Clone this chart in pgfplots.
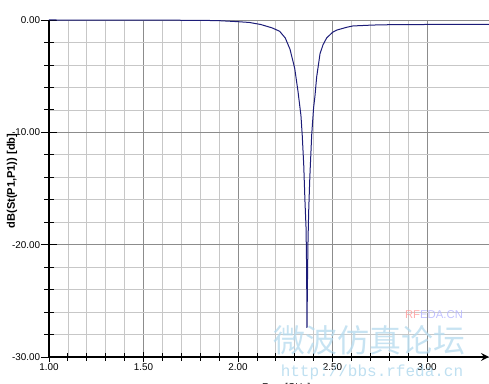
\documentclass[border=0pt]{standalone}
\usepackage{pgfplots}
\pgfplotsset{compat=1.18}
\usepackage{fontspec}
\setmainfont{Liberation Sans}
\setmonofont{Liberation Mono}
\newfontfamily\cjk{Noto Sans CJK SC}
\definecolor{curve}{HTML}{1C1C78}
\definecolor{wm}{HTML}{B4DAEE}
\begin{document}
\begin{tikzpicture}[x=0.75pt,y=0.75pt]
\begin{axis}[
  at={(0,0)}, anchor=south west,
  scale only axis, width=330pt, height=252.75pt,
  xmin=1, xmax=3.328, ymin=-30, ymax=0,
  axis x line=bottom, axis y line=left,
  x axis line style={line width=1.6pt,-stealth},
  y axis line style={line width=0.9pt,-},
  xtick={1,1.5,2,2.5,3}, xticklabels={1.00,1.50,2.00,2.50,3.00},
  ytick={-30,-20,-10,0}, yticklabels={-30.00,-20.00,-10.00,0.00},
  minor x tick num=4, minor y tick num=4,
  grid=both,
  major grid style={draw=black!45, line width=0.6pt},
  minor grid style={draw=black!22, line width=0.5pt},
  tick align=center,
  tick style={black, line width=0.6pt},
  xtick style={/pgfplots/major tick length=7pt,/pgfplots/minor tick length=6pt},
  ytick style={/pgfplots/major tick length=12pt,/pgfplots/minor tick length=7pt},
  ticklabel style={font=\fontsize{7.4}{8}\selectfont},
  xticklabel style={yshift=0.5pt},
  yticklabel style={xshift=-1pt},
  ylabel={dB(St(P1,P1)) [db]},
  ylabel style={font=\fontsize{8.3}{9}\selectfont\bfseries, at={(axis description cs:-0.084,0.522)}, anchor=center},
  xlabel={Freq [GHz]},
  xlabel style={font=\fontsize{7.4}{8}\selectfont, at={(axis description cs:0.539,-0.064)}, anchor=north},
  clip=false,
]
\addplot[curve, line width=0.75pt] coordinates {
(1.00,0) (1.50,-0.01) (1.80,-0.03) (1.90,-0.06) (2.00,-0.15) (2.06,-0.22)
(2.12,-0.40) (2.18,-0.70) (2.22,-1.00) (2.25,-1.60) (2.275,-2.6) (2.30,-4.3)
(2.317,-6.3) (2.333,-8.5) (2.340,-10.3) (2.348,-13) (2.354,-16) (2.360,-18.5)
(2.363,-22) (2.365,-27.4) (2.367,-24) (2.370,-20) (2.374,-17) (2.380,-14)
(2.390,-10.2) (2.400,-7.8) (2.407,-6.8) (2.416,-5.1) (2.434,-3.0) (2.450,-2.2)
(2.469,-1.6) (2.50,-1.1) (2.522,-0.9) (2.575,-0.65) (2.608,-0.53) (2.714,-0.45)
(2.80,-0.42) (3.00,-0.40) (3.328,-0.40)
};
\end{axis}
% watermark
\node[text=wm, opacity=0.75, font=\cjk\fontsize{24}{26}\selectfont] at (320,17) {微波仿真论坛};
\node[text=wm, opacity=0.85, font=\ttfamily\fontsize{12}{13}\selectfont] at (323,-15) {http://bbs.rfeda.cn};
\node[font=\fontsize{8.5}{9}\selectfont, opacity=0.8] at (385,42) {\textcolor{pink!80!red}{RF}\textcolor{blue!30}{EDA.CN}};
\pgfresetboundingbox
\useasboundingbox (-49,-27) rectangle (440,357);
\end{tikzpicture}
\end{document}
